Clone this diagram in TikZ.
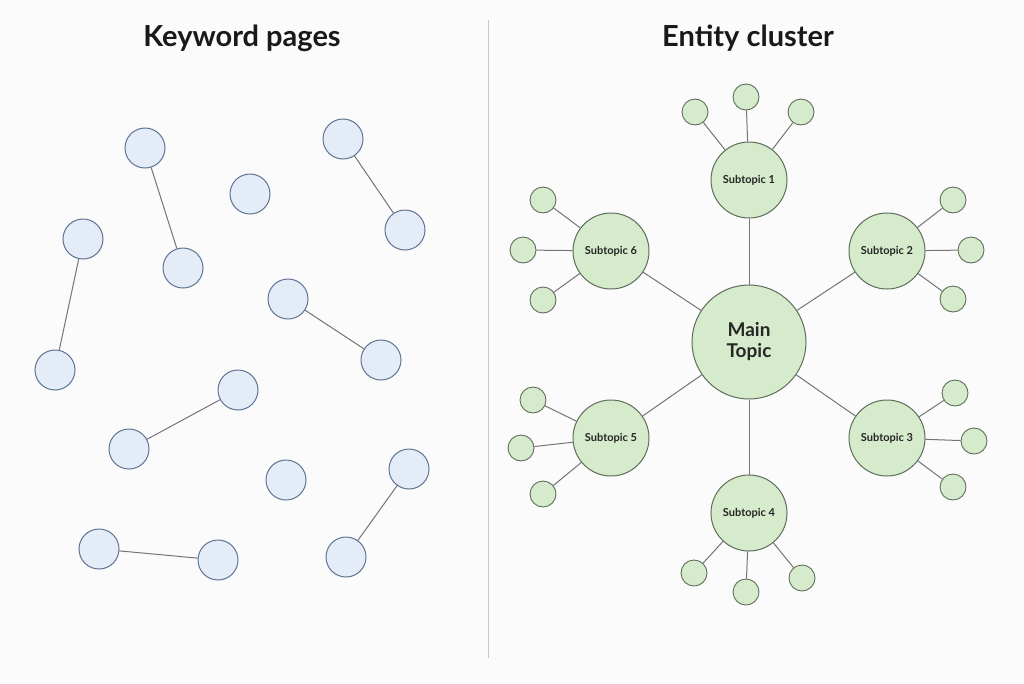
\documentclass[tikz,border=0pt]{standalone}
\usepackage{fontspec}
\setmainfont{Lato}
\begin{document}
\begin{tikzpicture}[x=1pt,y=-1pt,
  kw/.style={circle,draw=kwstroke,fill=kwfill,line width=1pt,minimum size=40pt,inner sep=0pt},
  sub/.style={circle,draw=clstroke,fill=clfill,line width=1pt,minimum size=76pt,inner sep=0pt,font=\bfseries\fontsize{11}{13}\selectfont,text=black!85},
  leaf/.style={circle,draw=clstroke,fill=clfill,line width=0.9pt,minimum size=26pt,inner sep=0pt},
  mainnode/.style={circle,draw=clstroke,fill=clfill,line width=1pt,minimum size=114pt,inner sep=0pt,font=\bfseries\fontsize{19}{23}\selectfont,text=black!85,align=center},
  link/.style={draw=linkgray,line width=1pt},
  ttl/.style={font=\bfseries\fontsize{29}{33}\selectfont,text=black!90}]
\definecolor{kwfill}{HTML}{E4ECF8}
\definecolor{kwstroke}{HTML}{5F7391}
\definecolor{clfill}{HTML}{D6EACC}
\definecolor{clstroke}{HTML}{5E6E5A}
\definecolor{linkgray}{HTML}{747474}
\definecolor{bg}{HTML}{FBFBFB}
\fill[bg] (0,0) rectangle (1024,683);
\useasboundingbox (0,0) rectangle (1024,683);
\coordinate (divtop) at (488,20);
\coordinate (divbot) at (488,658);
\draw[draw=black!22,line width=1pt] (divtop) -- (divbot);
\node[ttl] (t1) at (242,38) {Keyword pages};
\node[ttl] (t2) at (748,38) {Entity cluster};
% keyword pages
\node[kw] (a) at (145,148) {};
\node[kw] (b) at (183,268) {};
\node[kw] (c) at (250,194) {};
\node[kw] (d) at (343,139) {};
\node[kw] (e) at (405,230) {};
\node[kw] (f) at (83,239) {};
\node[kw] (g) at (55,370) {};
\node[kw] (h) at (288,299) {};
\node[kw] (i) at (381,360) {};
\node[kw] (j) at (238,390) {};
\node[kw] (k) at (129,449) {};
\node[kw] (l) at (286,480) {};
\node[kw] (m) at (409,469) {};
\node[kw] (n) at (346,557) {};
\node[kw] (o) at (99,549) {};
\node[kw] (p) at (218,560) {};
\draw[link] (a) -- (b);
\draw[link] (d) -- (e);
\draw[link] (f) -- (g);
\draw[link] (h) -- (i);
\draw[link] (j) -- (k);
\draw[link] (m) -- (n);
\draw[link] (o) -- (p);
% entity cluster
\node[mainnode] (mt) at (749,342) {Main\\[-2pt]Topic};
\node[sub] (s1) at (749,180) {Subtopic 1};
\node[sub] (s2) at (887,251) {Subtopic 2};
\node[sub] (s3) at (887,438) {Subtopic 3};
\node[sub] (s4) at (749,513) {Subtopic 4};
\node[sub] (s5) at (611,438) {Subtopic 5};
\node[sub] (s6) at (611,251) {Subtopic 6};
\foreach \s in {s1,s2,s3,s4,s5,s6} \draw[link] (mt) -- (\s);
\node[leaf] (l1a) at (695,112) {};
\node[leaf] (l1b) at (746,97) {};
\node[leaf] (l1c) at (801,112) {};
\node[leaf] (l2a) at (953,200) {};
\node[leaf] (l2b) at (971,250) {};
\node[leaf] (l2c) at (953,299) {};
\node[leaf] (l3a) at (955,393) {};
\node[leaf] (l3b) at (974,441) {};
\node[leaf] (l3c) at (953,487) {};
\node[leaf] (l4a) at (694,573) {};
\node[leaf] (l4b) at (746,592) {};
\node[leaf] (l4c) at (802,578) {};
\node[leaf] (l5a) at (533,400) {};
\node[leaf] (l5b) at (521,448) {};
\node[leaf] (l5c) at (543,494) {};
\node[leaf] (l6a) at (543,200) {};
\node[leaf] (l6b) at (523,250) {};
\node[leaf] (l6c) at (543,300) {};
\foreach \n in {1,...,6} \foreach \x in {a,b,c} \draw[link] (s\n) -- (l\n\x);
\end{tikzpicture}
\end{document}
